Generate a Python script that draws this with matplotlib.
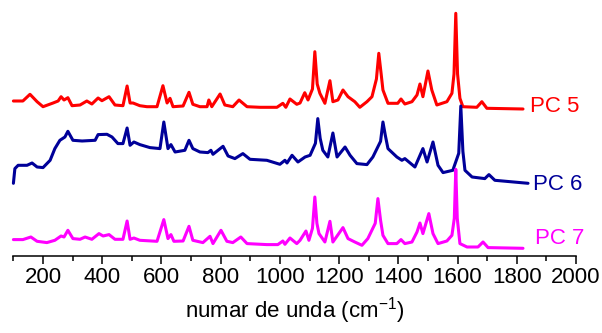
import matplotlib
matplotlib.use("Agg")
import matplotlib.pyplot as plt
from matplotlib.ticker import MultipleLocator

plt.rcParams['font.family'] = ['Liberation Sans', 'DejaVu Sans']
plt.rcParams['mathtext.fontset'] = 'custom'
plt.rcParams['mathtext.rm'] = 'Liberation Sans'
plt.rcParams['mathtext.it'] = 'Liberation Sans:italic'
plt.rcParams['mathtext.default'] = 'regular'

# ---- data (wavenumber cm-1, relative intensity) ----
pc5_w = [100, 132, 156, 180, 200, 234, 251, 261, 271, 284, 298, 325, 348, 365, 386, 399,
         423, 443, 470, 484, 494, 504, 527, 551, 585, 605, 619, 629, 639, 673, 693, 706,
         730, 754, 760, 770, 798, 814, 841, 862, 889, 933, 990, 1010, 1020, 1034, 1057,
         1068, 1084, 1095, 1110, 1118, 1126, 1135, 1152, 1169, 1179, 1196, 1213, 1230,
         1253, 1270, 1294, 1311, 1326, 1334, 1342, 1348, 1365, 1398, 1409, 1422, 1446,
         1463, 1473, 1483, 1500, 1513, 1530, 1564, 1581, 1588, 1594, 1600, 1608, 1618,
         1665, 1682, 1699, 1821]
pc5_i = [8, 8, 14.7, 7.3, 2.3, 6, 8, 12.3, 9, 11.3, 3.3, 4, 8, 5, 11, 8.3,
         12.3, 4, 3.3, 23, 6, 6, 3.3, 2.3, 2.3, 23.3, 6, 10.7, 2.3, 3, 16.7, 4.7,
         2.3, 2.3, 9, 2.3, 15, 4, 2.3, 9, 2.3, 1.7, 1.7, 5.7, 1.7, 10, 4.7,
         6, 16.3, 9, 20, 57.3, 25, 15.7, 5.7, 28.3, 7.3, 9, 19, 12.3,
         7.3, 1.7, 7.3, 12.3, 30, 55.7, 35, 19, 5.7, 5.7, 10, 5, 7.3,
         14, 25, 12.3, 38, 19, 4, 7.3, 15.7, 35, 95.7, 35, 10.7, 2.3,
         1.7, 7.3, 0.7, 0]

pc6_w = [100, 105, 116, 146, 163, 180, 200, 224, 240, 257, 274, 284, 301, 332, 376, 386,
         416, 433, 453, 470, 484, 494, 507, 527, 561, 595, 608, 622, 632, 646, 679, 693,
         706, 730, 757, 767, 774, 808, 825, 848, 875, 899, 956, 1000, 1017, 1024, 1041,
         1061, 1085, 1102, 1120, 1128, 1136, 1145, 1162, 1179, 1193, 1220, 1237, 1260,
         1294, 1314, 1340, 1348, 1356, 1365, 1395, 1412, 1422, 1456, 1483, 1497, 1517,
         1534, 1551, 1584, 1604, 1611, 1618, 1625, 1649, 1692, 1706, 1726, 1838]
pc6_i = [0, 14.7, 18, 18, 20.3, 16.3, 15.7, 23, 34.7, 43, 46.3, 52, 43, 42.3, 43, 48.7,
         49, 46.3, 39.7, 39.7, 55.3, 38, 41.3, 38.7, 35.7, 34.7, 61.3, 34.7, 38.7, 31.3, 33, 43,
         34.7, 31.3, 30.7, 33, 29, 37, 27.3, 24.7, 29.7, 24, 23, 19, 23, 20.3, 28,
         21.3, 26.3, 28, 40, 64.7, 45, 33, 26.3, 50.3, 26.3, 36.3, 28, 19.7,
         18.7, 26.3, 42, 61.3, 48, 34.7, 26.3, 23, 24.7, 16.3, 34.7, 21.3, 41.3,
         18, 10.7, 13, 30, 77.3, 32, 13, 6.3, 4.7, 8.7, 3, 0]

pc7_w = [100, 132, 159, 180, 213, 240, 261, 271, 284, 301, 325, 342, 365, 389, 403, 423,
         443, 470, 484, 494, 507, 527, 585, 608, 622, 632, 642, 673, 693, 706, 740, 764,
         774, 801, 821, 841, 868, 889, 956, 993, 1010, 1017, 1034, 1057, 1068, 1088, 1098,
         1110, 1118, 1125, 1132, 1152, 1169, 1179, 1213, 1230, 1253, 1277, 1297, 1322, 1331,
         1340, 1348, 1365, 1395, 1409, 1422, 1446, 1463, 1473, 1483, 1503, 1517, 1534, 1564,
         1581, 1589, 1594, 1599, 1608, 1632, 1669, 1686, 1703, 1821]
pc7_i = [8.7, 8.7, 11.3, 7, 5.7, 8, 12.3, 11.3, 18, 9.7, 9, 11.3, 9, 14.7, 12.3, 13.7,
         9, 9, 27.3, 9, 10.3, 8, 7, 28.7, 9.7, 13.7, 7, 7.3, 22, 8, 5.7, 12,
         4.7, 18, 7, 5.7, 11.3, 4.7, 3.7, 3.7, 7.3, 4, 10.3, 4.7, 8, 17.3, 8,
         20, 51.3, 25, 14.7, 6.3, 27, 6.3, 20.7, 9.7, 6.3, 3, 9.7, 25, 49.7,
         28, 13, 4.7, 4.7, 8.7, 4.7, 6.3, 16.3, 25.3, 14.7, 34.7, 14.7, 4.7, 7.3,
         13, 30, 79, 30, 4.7, 1.3, 1.3, 6.3, 0.7, 0]

series_names = ['PC 5', 'PC 6', 'PC 7']
offsets = [147, 72.7, 7.7]
colors = ['#ff0000', '#000099', '#ff00ff']
label_pos = [(1844, 149), (1854, 72), (1860, 18)]

x_ticks = list(range(200, 2001, 200))

fig = plt.figure(figsize=(6.02, 3.33), dpi=100)
ax = fig.add_axes([13.4 / 602, 77 / 333, (576 - 13.4) / 602, 246 / 333])

data = [(pc5_w, pc5_i), (pc6_w, pc6_i), (pc7_w, pc7_i)]
for (w, inten), off, col, name, lp in zip(data, offsets, colors, series_names, label_pos):
    ax.plot(w, [v + off for v in inten], color=col, lw=2.2, solid_joinstyle='round',
            solid_capstyle='round', clip_on=False)
    ax.text(lp[0], lp[1], name, color=col, fontsize=16, ha='left', va='center',
            clip_on=False)

ax.set_xlim(100, 2000)
ax.set_ylim(0, 246)
ax.set_xticks(x_ticks)
ax.xaxis.set_minor_locator(MultipleLocator(100))
ax.tick_params(axis='x', which='major', direction='out', length=6, width=1.1,
               labelsize=16, pad=2)
ax.tick_params(axis='x', which='minor', direction='out', length=3.5, width=1.1)
ax.set_yticks([])
for s in ['left', 'right', 'top']:
    ax.spines[s].set_visible(False)
ax.spines['bottom'].set_linewidth(1.1)
ax.set_xlabel('numar de unda (cm$^{-1}$)', fontsize=16, labelpad=5)

fig.savefig('out.png', dpi=100)
